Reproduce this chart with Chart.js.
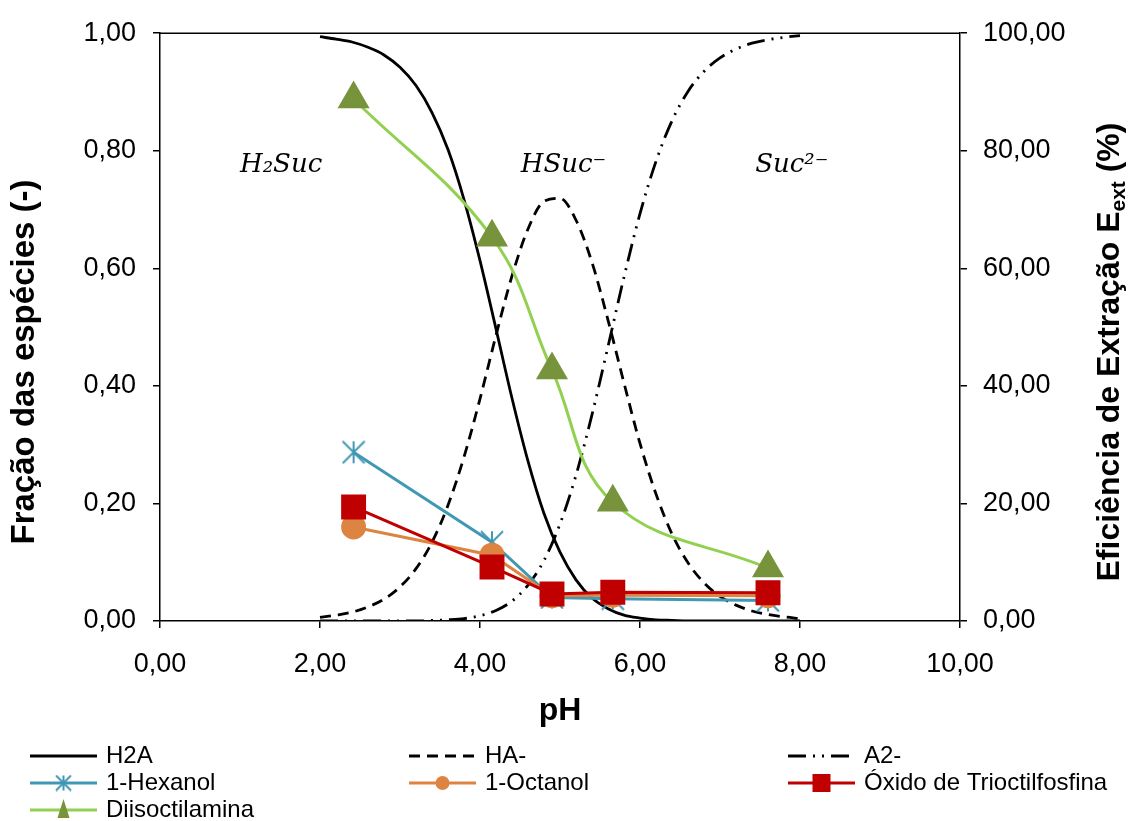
<!DOCTYPE html>
<html>
<head>
<meta charset="utf-8">
<script src="https://cdn.jsdelivr.net/npm/chart.js@4.4.0/dist/chart.umd.min.js"></script>
<style>
  html, body { margin: 0; padding: 0; background: #fff; }
  #wrap { width: 1129px; height: 821px; position: relative; }
</style>
</head>
<body>
<div id="wrap"><canvas id="speciesChart"></canvas></div>
<script>
// Curvas de especiação (fração molar)
const phCurve = [2.0, 2.2, 2.4, 2.6, 2.8, 3.0, 3.2, 3.4, 3.6, 3.8, 4.0, 4.2, 4.4, 4.6, 4.8, 5.0,
                 5.2, 5.4, 5.6, 5.8, 6.0, 6.2, 6.4, 6.6, 6.8, 7.0, 7.2, 7.4, 7.6, 7.8, 8.0];
const fracH2A = [0.994, 0.990, 0.985, 0.976, 0.963, 0.942, 0.911, 0.865, 0.802, 0.717, 0.613, 0.497, 0.379, 0.272, 0.183, 0.117,
                 0.070, 0.039, 0.021, 0.010, 0.005, 0.002, 0.001, 0.000, 0.000, 0.000, 0.000, 0.000, 0.000, 0.000, 0.000];
const fracHA = [0.006, 0.010, 0.015, 0.024, 0.037, 0.058, 0.089, 0.134, 0.197, 0.279, 0.378, 0.486, 0.587, 0.667, 0.714, 0.719,
                0.682, 0.610, 0.512, 0.405, 0.302, 0.216, 0.148, 0.099, 0.065, 0.042, 0.027, 0.017, 0.011, 0.007, 0.004];
const fracA2 = [0.000, 0.000, 0.000, 0.000, 0.000, 0.000, 0.000, 0.001, 0.002, 0.004, 0.009, 0.018, 0.034, 0.061, 0.103, 0.165,
                0.248, 0.351, 0.467, 0.585, 0.693, 0.782, 0.851, 0.901, 0.935, 0.958, 0.973, 0.983, 0.989, 0.993, 0.996];

// Eficiência de extração (%) por extratante
const phExp = [2.42, 4.15, 4.90, 5.66, 7.60];
const effHexanol = [28.7, 13.4, 4.0, 3.8, 3.5];
const effOctanol = [16.0, 11.2, 4.3, 4.4, 4.3];
const effTopo = [19.4, 9.2, 4.6, 4.9, 4.8];
const effDiiso = [88.8, 65.3, 42.7, 20.2, 9.0];

const xTicks = [0, 2, 4, 6, 8, 10];
const yTicks = [0, 0.2, 0.4, 0.6, 0.8, 1.0];
const y2Ticks = [0, 20, 40, 60, 80, 100];

const FONT = "'Liberation Sans', Arial, sans-serif";
Chart.defaults.font.family = FONT;
Chart.defaults.color = '#000';

function fmt(v) {
    return v.toFixed(2).replace('.', ',');
}
function toXY(xs, ys) {
    return xs.map((x, i) => ({ x: x, y: ys[i] }));
}

// marcador asterisco (estilo Excel)
function makeAsterisk(size, color, lw) {
    const c = document.createElement('canvas');
    c.width = size; c.height = size;
    const g = c.getContext('2d');
    g.strokeStyle = color;
    g.lineWidth = lw;
    const m = size / 2, r = size / 2 - 1;
    g.beginPath();
    g.moveTo(m - r, m - r); g.lineTo(m + r, m + r);
    g.moveTo(m + r, m - r); g.lineTo(m - r, m + r);
    g.moveTo(m, m - r); g.lineTo(m, m + r);
    g.stroke();
    return c;
}

const colHex = '#4198b5', colOct = '#de8443', colTopo = '#c00000', colDiiLine = '#92d050', colDiiMk = '#77933c';
const starBig = makeAsterisk(24, colHex, 2);
const starSmall = makeAsterisk(17, colHex, 2);

const datasets = [
    { label: 'H2A', data: toXY(phCurve, fracH2A), yAxisID: 'y', borderColor: '#000', borderWidth: 2.8,
      pointRadius: 0, cubicInterpolationMode: 'monotone', order: 10 },
    { label: 'HA-', data: toXY(phCurve, fracHA), yAxisID: 'y', borderColor: '#000', borderWidth: 2.8,
      borderDash: [11, 7], pointRadius: 0, cubicInterpolationMode: 'monotone', order: 10 },
    { label: 'A2-', data: toXY(phCurve, fracA2), yAxisID: 'y', borderColor: '#000', borderWidth: 2.8,
      borderDash: [18, 7, 2, 7, 2, 7], pointRadius: 0, cubicInterpolationMode: 'monotone', order: 10 },
    { label: '1-Hexanol', data: toXY(phExp, effHexanol), yAxisID: 'y2', borderColor: colHex, borderWidth: 3,
      pointStyle: starBig, pointRadius: 12, order: 4 },
    { label: '1-Octanol', data: toXY(phExp, effOctanol), yAxisID: 'y2', borderColor: colOct, borderWidth: 3,
      pointStyle: 'circle', pointRadius: 11, pointBackgroundColor: colOct, pointBorderColor: colOct, order: 3 },
    { label: 'Óxido de Trioctilfosfina', data: toXY(phExp, effTopo), yAxisID: 'y2', borderColor: colTopo, borderWidth: 3,
      pointStyle: 'rect', pointRadius: 15.5, pointBackgroundColor: colTopo, pointBorderColor: colTopo, order: 2 },
    { label: 'Diisoctilamina', data: toXY(phExp, effDiiso), yAxisID: 'y2', borderColor: colDiiLine, borderWidth: 3,
      tension: 0.4, pointStyle: 'triangle', pointRadius: 15.5, pointBackgroundColor: colDiiMk, pointBorderColor: colDiiMk,
      order: 1 }
];

const annotations = [
    { text: 'H\u2082Suc', x: 1.0, y: 0.764 },
    { text: 'HSuc\u207B', x: 4.51, y: 0.764 },
    { text: 'Suc\u00B2\u207B', x: 7.44, y: 0.764 }
];

function drawLegendMarker(ctx, ds, x, y) {
    const s = ds.pointStyle;
    if (!s) return;
    ctx.save();
    ctx.fillStyle = ds.pointBackgroundColor || ds.borderColor;
    if (s === 'circle') {
        ctx.beginPath(); ctx.arc(x, y, 7, 0, Math.PI * 2); ctx.fill();
    } else if (s === 'rect') {
        ctx.fillRect(x - 9, y - 9, 18, 18);
    } else if (s === 'triangle') {
        ctx.beginPath(); ctx.moveTo(x, y - 11); ctx.lineTo(x + 6, y + 8); ctx.lineTo(x - 6, y + 8); ctx.closePath(); ctx.fill();
    } else {
        ctx.drawImage(starSmall, x - 8.5, y - 8.5);
    }
    ctx.restore();
}

const decor = {
    id: 'decor',
    afterDraw(chart) {
        const ctx = chart.ctx, a = chart.chartArea;
        const sx = chart.scales.x, sy = chart.scales.y;
        ctx.save();
        // moldura superior
        ctx.strokeStyle = '#000'; ctx.lineWidth = 1.5;
        ctx.beginPath(); ctx.moveTo(a.left, a.top); ctx.lineTo(a.right, a.top); ctx.stroke();

        // nomes das espécies
        ctx.fillStyle = '#000';
        ctx.font = "italic 26px 'DejaVu Serif', serif";
        ctx.textBaseline = 'alphabetic'; ctx.textAlign = 'left';
        annotations.forEach(t => ctx.fillText(t.text, sx.getPixelForValue(t.x), sy.getPixelForValue(t.y)));

        // títulos dos eixos
        ctx.font = 'bold 32px ' + FONT;
        ctx.textAlign = 'center'; ctx.textBaseline = 'middle';
        ctx.fillText('pH', (a.left + a.right) / 2, 711);

        ctx.save();
        ctx.translate(25, 362); ctx.rotate(-Math.PI / 2);
        ctx.font = 'bold 33px ' + FONT;
        ctx.fillText('Fração das espécies (-)', 0, 0);
        ctx.restore();

        ctx.save();
        ctx.translate(1108, 352); ctx.rotate(-Math.PI / 2);
        ctx.textAlign = 'left'; ctx.textBaseline = 'alphabetic';
        const parts = [
            { t: 'Eficiência de Extração E', f: 'bold 32px ' + FONT, dy: 11 },
            { t: 'ext', f: 'bold 21px ' + FONT, dy: 17 },
            { t: ' (%)', f: 'bold 32px ' + FONT, dy: 11 }
        ];
        let total = 0;
        parts.forEach(p => { ctx.font = p.f; p.w = ctx.measureText(p.t).width; total += p.w; });
        let px = -total / 2;
        parts.forEach(p => { ctx.font = p.f; ctx.fillText(p.t, px, p.dy); px += p.w; });
        ctx.restore();

        // legenda
        const colX = [30, 409, 788], rowY = [756, 783, 810];
        ctx.font = '24px ' + FONT;
        ctx.textAlign = 'left'; ctx.textBaseline = 'middle';
        chart.data.datasets.forEach((ds, i) => {
            const x0 = colX[i % 3], y = rowY[Math.floor(i / 3)];
            ctx.save();
            ctx.strokeStyle = ds.borderColor; ctx.lineWidth = ds.borderWidth;
            ctx.setLineDash(ds.borderDash || []);
            ctx.beginPath(); ctx.moveTo(x0, y); ctx.lineTo(x0 + 67, y); ctx.stroke();
            ctx.restore();
            drawLegendMarker(ctx, ds, x0 + 33.5, y);
            ctx.fillStyle = '#000';
            ctx.fillText(ds.label, x0 + 76, y);
        });
        ctx.restore();
    }
};

const axisGrid = { drawOnChartArea: false, drawTicks: true, tickLength: 7, color: '#000', lineWidth: 1.5 };
const axisBorder = { display: true, color: '#000', width: 1.5 };

new Chart(document.getElementById('speciesChart'), {
    type: 'line',
    data: { datasets: datasets },
    options: {
        responsive: true,
        maintainAspectRatio: false,
        animation: false,
        layout: { padding: { top: 33, left: 0, right: 0, bottom: 0 } },
        plugins: { legend: { display: false }, tooltip: { enabled: false } },
        scales: {
            x: {
                type: 'linear', min: 0, max: 10,
                afterBuildTicks: s => { s.ticks = xTicks.map(v => ({ value: v })); },
                ticks: { callback: v => fmt(v), font: { size: 27 }, padding: 20, maxRotation: 0 },
                grid: axisGrid, border: axisBorder,
                afterFit: s => { s.height = 200; }
            },
            y: {
                type: 'linear', position: 'left', min: 0, max: 1,
                afterBuildTicks: s => { s.ticks = yTicks.map(v => ({ value: v })); },
                ticks: { callback: v => fmt(v), font: { size: 27 }, padding: 17 },
                grid: axisGrid, border: axisBorder,
                afterFit: s => { s.width = 160; }
            },
            y2: {
                type: 'linear', position: 'right', min: 0, max: 100,
                afterBuildTicks: s => { s.ticks = y2Ticks.map(v => ({ value: v })); },
                ticks: { callback: v => fmt(v), font: { size: 27 }, padding: 16 },
                grid: axisGrid, border: axisBorder,
                afterFit: s => { s.width = 169; }
            }
        }
    },
    plugins: [decor]
});
</script>
</body>
</html>
